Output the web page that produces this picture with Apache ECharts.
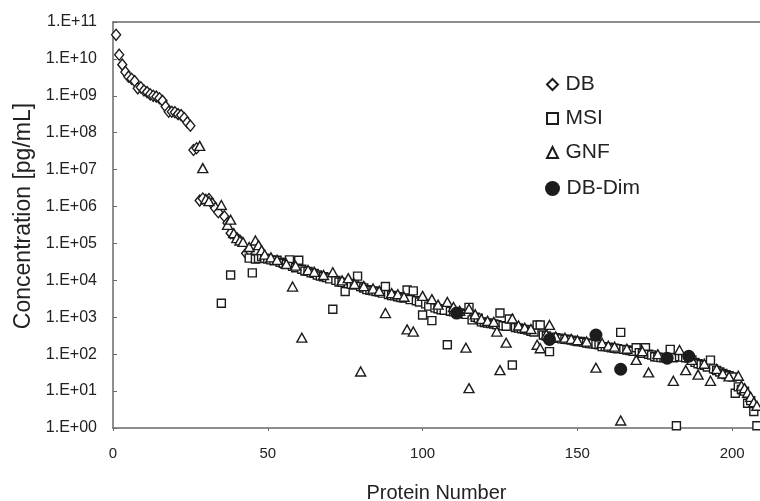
<!DOCTYPE html>
<html>
<head>
<meta charset="utf-8">
<script src="https://cdn.jsdelivr.net/npm/echarts@6/dist/echarts.min.js"></script>
<style>
  html, body { margin: 0; padding: 0; background: #fff; }
  #chart { width: 760px; height: 501px; }
</style>
</head>
<body>
<div id="chart"></div>
<script>
// [protein number, concentration pg/mL]
const dbData = [
  [1, 4.5e10], [2, 1.3e10], [3, 7.0e9], [4, 4.4e9], [5, 3.3e9], [6, 2.9e9], [7, 2.5e9],
  [8, 1.6e9], [9, 1.7e9], [10, 1.4e9], [11, 1.26e9], [12, 1.1e9], [13, 1.0e9], [14, 9.5e8],
  [15, 8.6e8], [16, 7.3e8], [17, 5.1e8], [18, 3.7e8], [19, 3.7e8], [20, 3.6e8], [21, 3.2e8],
  [22, 3.0e8], [23, 2.5e8], [24, 1.9e8], [25, 1.55e8], [26, 3.4e7], [27, 3.8e7],
  [28, 1.45e6], [29, 1.65e6], [31, 1.6e6], [32, 1.2e6], [33, 9.0e5], [34, 7.0e5],
  [36, 5.4e5], [37, 3.6e5], [38, 1.9e5], [40, 1.4e5], [41, 1.2e5], [43, 5.4e4], [44, 6.5e4]
];

const msiData = [
  [35, 2.4e3], [38, 1.4e4], [44, 4.0e4], [45, 1.6e4], [46, 3.8e4], [47, 3.9e4], [48, 4.4e4],
  [49, 4.0e4], [50, 3.8e4], [51, 3.6e4], [52, 3.4e4], [53, 3.5e4], [54, 3.1e4], [55, 2.9e4],
  [56, 2.7e4], [57, 3.6e4], [58, 2.4e4], [59, 2.2e4], [60, 3.5e4], [61, 2.0e4], [62, 1.8e4],
  [63, 1.75e4], [64, 1.6e4], [65, 1.55e4], [66, 1.4e4], [67, 1.3e4], [68, 1.25e4], [69, 1.2e4],
  [70, 1.1e4], [71, 1.65e3], [72, 1.0e4], [73, 9.0e3], [74, 8.8e3], [75, 5.0e3], [76, 8.2e3],
  [77, 7.8e3], [78, 7.5e3], [79, 1.3e4], [80, 6.8e3], [81, 6.2e3], [82, 5.6e3], [83, 5.4e3],
  [84, 5.2e3], [85, 5.0e3], [86, 4.8e3], [87, 4.5e3], [88, 6.8e3], [89, 4.1e3], [90, 3.9e3],
  [91, 3.8e3], [92, 3.6e3], [93, 3.4e3], [94, 3.3e3], [95, 5.5e3], [96, 3.0e3], [97, 5.2e3],
  [98, 2.8e3], [99, 2.6e3], [100, 1.15e3], [101, 2.3e3], [102, 2.0e3], [103, 8.1e2],
  [104, 1.8e3], [105, 1.7e3], [106, 1.6e3], [107, 1.55e3], [108, 1.8e2], [109, 1.45e3],
  [110, 1.4e3], [111, 1.35e3], [112, 1.3e3], [113, 1.25e3], [114, 1.2e3], [115, 1.85e3],
  [116, 8.5e2], [117, 1.0e3], [118, 9.5e2], [119, 7.5e2], [120, 7.2e2], [121, 7.0e2],
  [122, 6.8e2], [123, 6.6e2], [124, 6.3e2], [125, 1.3e3], [126, 5.9e2], [127, 5.7e2],
  [128, 9.0e2], [129, 51], [130, 5.3e2], [131, 5.1e2], [132, 4.9e2], [133, 4.7e2],
  [134, 4.5e2], [135, 4.2e2], [136, 4.0e2], [137, 6.2e2], [138, 6.2e2], [139, 3.3e2],
  [140, 3.1e2], [141, 1.17e2], [142, 2.9e2], [143, 2.8e2], [144, 2.7e2], [145, 2.6e2],
  [146, 2.55e2], [147, 2.5e2], [148, 2.4e2], [149, 2.3e2], [150, 2.2e2], [151, 2.2e2],
  [152, 2.1e2], [153, 2.0e2], [154, 1.95e2], [155, 1.9e2], [156, 1.85e2], [157, 1.8e2],
  [158, 1.6e2], [159, 1.6e2], [160, 1.55e2], [161, 1.5e2], [162, 1.45e2], [163, 1.4e2],
  [164, 3.9e2], [165, 1.35e2], [166, 1.3e2], [167, 1.25e2], [168, 1.2e2], [169, 1.5e2],
  [170, 1.1e2], [171, 1.05e2], [172, 1.5e2], [173, 1.0e2], [174, 95], [175, 85], [176, 83],
  [177, 81], [178, 80], [179, 78], [180, 1.35e2], [181, 80], [182, 1.15], [183, 85],
  [184, 83], [185, 80], [186, 78], [187, 70], [188, 60], [189, 55], [190, 52], [191, 50],
  [192, 45], [193, 69], [194, 40], [195, 36], [196, 33], [197, 30], [198, 28], [199, 26],
  [200, 24], [201, 8.7], [202, 13], [203, 11], [204, 10], [205, 4.7], [206, 5.5],
  [207, 2.8], [208, 1.15]
];

const gnfData = [
  [28, 4.4e7], [29, 1.1e7], [30, 1.6e6], [31, 1.4e6], [35, 1.1e6], [37, 3.2e5], [38, 4.4e5],
  [39, 1.9e5], [40, 1.4e5], [41, 1.2e5], [42, 1.1e5], [44, 8.0e4], [46, 1.2e5], [47, 9.0e4],
  [48, 6.6e4], [49, 5.0e4], [51, 4.2e4], [53, 3.6e4], [56, 2.8e4], [58, 6.8e3], [59, 2.5e4],
  [61, 2.8e2], [63, 1.9e4], [65, 1.7e4], [68, 1.4e4], [71, 1.66e4], [74, 1.0e4], [76, 1.15e4],
  [78, 8.0e3], [80, 34], [81, 7.0e3], [84, 6.0e3], [86, 5.2e3], [88, 1.3e3], [90, 4.5e3],
  [92, 4.2e3], [94, 3.6e3], [95, 4.7e2], [97, 4.1e2], [100, 3.8e3], [103, 3.1e3],
  [105, 2.2e3], [108, 2.6e3], [110, 1.9e3], [112, 1.5e3], [114, 1.5e2], [115, 12],
  [115, 1.7e3], [117, 1.2e3], [119, 9.0e2], [121, 8.0e2], [123, 7.5e2], [124, 4.1e2],
  [125, 37], [127, 2.05e2], [129, 9.3e2], [131, 6.0e2], [133, 5.2e2], [135, 4.8e2],
  [137, 1.8e2], [138, 1.45e2], [140, 3.4e2], [141, 6.2e2], [143, 3.0e2], [146, 2.8e2],
  [148, 2.6e2], [150, 2.4e2], [153, 2.2e2], [156, 43], [158, 2.0e2], [160, 1.7e2],
  [162, 1.6e2], [164, 1.6], [166, 1.4e2], [169, 70], [171, 1.2e2], [173, 32], [176, 1.0e2],
  [181, 19], [183, 1.3e2], [185, 37], [187, 70], [189, 28], [191, 55], [193, 19], [195, 40],
  [197, 30], [199, 25], [202, 26], [203, 14], [204, 12], [205, 9], [206, 7], [207, 5], [208, 4]
];

const dimData = [[111, 1300], [141, 250], [156, 330], [164, 39], [179, 78], [186, 88]];

const seriesNames = ['DB', 'MSI', 'GNF', 'DB-Dim'];

const ink = '#1c1c1c';
const axisGrey = '#6a6a6a';
const font = '"Liberation Sans", Arial, sans-serif';

function expLabel(v) {
  const e = Math.round(Math.log10(v));
  return '1.E+' + String(e).padStart(2, '0');
}

function openSeries(name, symbol, size, data) {
  return {
    name: name,
    type: 'scatter',
    symbol: symbol,
    symbolSize: size,
    data: data,
    itemStyle: { color: '#fff', borderColor: ink, borderWidth: 1.4, opacity: 1 },
    emphasis: { disabled: true }
  };
}

const chart = echarts.init(document.getElementById('chart'));

chart.setOption({
  animation: false,
  backgroundColor: '#fff',
  grid: { left: 113, right: 0, top: 22, bottom: 73, outerBoundsMode: 'none', containLabel: false },
  legend: [
    {
      data: seriesNames.slice(0, 3),
      orient: 'vertical',
      left: 541,
      top: 69,
      itemWidth: 11,
      itemHeight: 11,
      itemGap: 13,
      textStyle: { fontFamily: font, fontSize: 21, color: '#222', padding: [0, 0, 0, 2.5] }
    },
    {
      data: [seriesNames[3]],
      orient: 'vertical',
      left: 540,
      top: 173,
      itemWidth: 15,
      itemHeight: 15,
      textStyle: { fontFamily: font, fontSize: 21, color: '#222', padding: [0, 0, 0, 1.5] }
    }
  ],
  xAxis: [
    {
      type: 'value',
      min: 0,
      max: 209,
      interval: 50,
      name: 'Protein Number',
      nameLocation: 'middle',
      nameGap: 55,
      nameTextStyle: { fontFamily: font, fontSize: 20, color: '#222' },
      axisLine: { lineStyle: { color: axisGrey, width: 1.5 } },
      axisTick: { show: true, length: 3, lineStyle: { color: axisGrey } },
      axisLabel: { fontFamily: font, fontSize: 15, color: '#222', margin: 18, showMaxLabel: false },
      splitLine: { show: false }
    },
    {
      type: 'value',
      position: 'top',
      min: 0,
      max: 209,
      axisLine: { show: true, lineStyle: { color: axisGrey, width: 1.5 } },
      axisTick: { show: false },
      axisLabel: { show: false },
      splitLine: { show: false }
    }
  ],
  yAxis: {
    type: 'log',
    logBase: 10,
    min: 1,
    max: 1e11,
    interval: 1,
    name: 'Concentration [pg/mL]',
    nameLocation: 'middle',
    nameGap: 76,
    nameTextStyle: { fontFamily: font, fontSize: 23, color: '#222', padding: [0, 0, 0, 18] },
    axisLine: { show: true, lineStyle: { color: axisGrey, width: 1.5 } },
    axisTick: { show: true, inside: true, length: 4, lineStyle: { color: axisGrey } },
    axisLabel: { fontFamily: font, fontSize: 16, color: '#222', margin: 16, formatter: expLabel },
    splitLine: { show: false },
    minorTick: { show: false }
  },
  series: [
    openSeries('DB', 'diamond', [9, 11], dbData),
    openSeries('MSI', 'rect', 8, msiData),
    openSeries('GNF', 'triangle', [10, 9], gnfData),
    {
      name: 'DB-Dim',
      type: 'scatter',
      symbol: 'circle',
      symbolSize: 13,
      data: dimData,
      itemStyle: { color: ink, opacity: 1 },
      emphasis: { disabled: true },
      z: 5
    }
  ]
});
</script>
</body>
</html>
